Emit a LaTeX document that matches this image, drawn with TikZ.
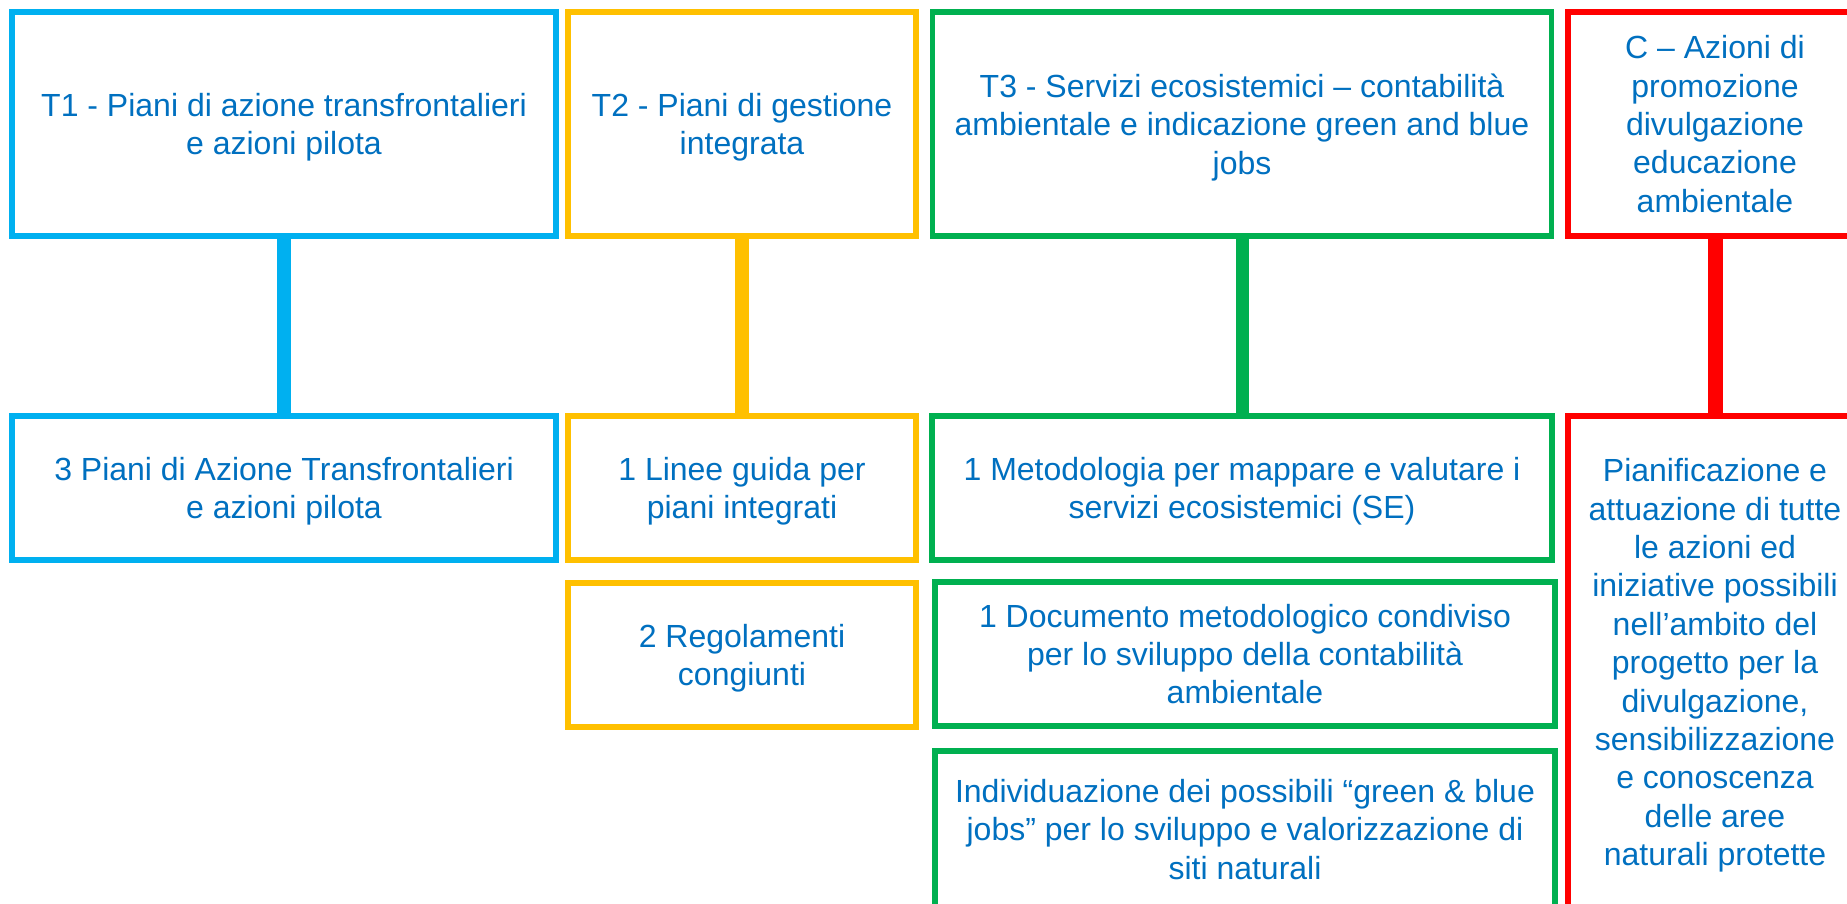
\documentclass[tikz,border=0pt]{standalone}
\usepackage{fontspec}
\setmainfont{Liberation Sans}
\definecolor{tblue}{HTML}{00B0F0}
\definecolor{tyellow}{HTML}{FFC000}
\definecolor{tgreen}{HTML}{00B050}
\definecolor{cred}{HTML}{FF0000}
\definecolor{txtblue}{HTML}{0070C0}

\begin{document}
\begin{tikzpicture}[x=0.5pt,y=-0.5pt,
    box/.style={draw=#1,line width=2.8pt,inner sep=0pt,align=center,
      text=txtblue,fill=white,text depth=0pt,font=\fontsize{16}{19.2}\selectfont},
    topbox/.style={minimum height=112pt},
    subbox/.style={minimum height=72pt}]
    \tikzstyle{link}=[line width=7pt]

    \useasboundingbox (0,0) rectangle (1847,904);
    \clip (0,0) rectangle (1847,904);

    \node[box=tblue,topbox,minimum width=272pt] (t1) at (284,124) {T1 - Piani di azione transfrontalieri\\e azioni pilota};
    \node[box=tyellow,topbox,minimum width=174pt] (t2) at (742,124) {T2 - Piani di gestione\\integrata};
    \node[box=tgreen,topbox,minimum width=309.5pt] (t3) at (1242,124) {T3 - Servizi ecosistemici – contabilità\\ambientale e indicazione green and blue\\jobs};
    \node[box=cred,topbox,minimum width=147pt] (c) at (1715,124) {C – Azioni di\\promozione\\divulgazione\\educazione\\ambientale};

    \node[box=tblue,subbox,minimum width=272pt] (t1a) at (284,488) {3 Piani di Azione Transfrontalieri\\e azioni pilota};
    \node[box=tyellow,subbox,minimum width=174pt] (t2a) at (742,488) {1 Linee guida per\\piani integrati};
    \node[box=tyellow,subbox,minimum width=174pt] (t2b) at (742,655) {2 Regolamenti\\congiunti};
    \node[box=tgreen,subbox,minimum width=310pt] (t3a) at (1242,488) {1 Metodologia per mappare e valutare i\\servizi ecosistemici (SE)};
    \node[box=tgreen,subbox,minimum width=310pt] (t3b) at (1245,654) {1 Documento metodologico condiviso\\per lo sviluppo della contabilità\\ambientale};
    \node[box=tgreen,minimum width=310pt,minimum height=78pt] (t3c) at (1245,829) {Individuazione dei possibili “green \& blue\\jobs” per lo sviluppo e valorizzazione di\\siti naturali};
    \node[box=cred,minimum width=147pt,minimum height=246pt] (ca) at (1715,662) {Pianificazione e\\attuazione di tutte\\le azioni ed\\iniziative possibili\\nell’ambito del\\progetto per la\\divulgazione,\\sensibilizzazione\\e conoscenza\\delle aree\\naturali protette};

    \draw[link,tblue] (t1) -- (t1a);
    \draw[link,tyellow] (t2) -- (t2a);
    \draw[link,tgreen,line width=6.5pt] (t3) -- (t3a);
    \draw[link,cred,line width=7.5pt] (c) -- (ca);

\end{tikzpicture}
\end{document}
